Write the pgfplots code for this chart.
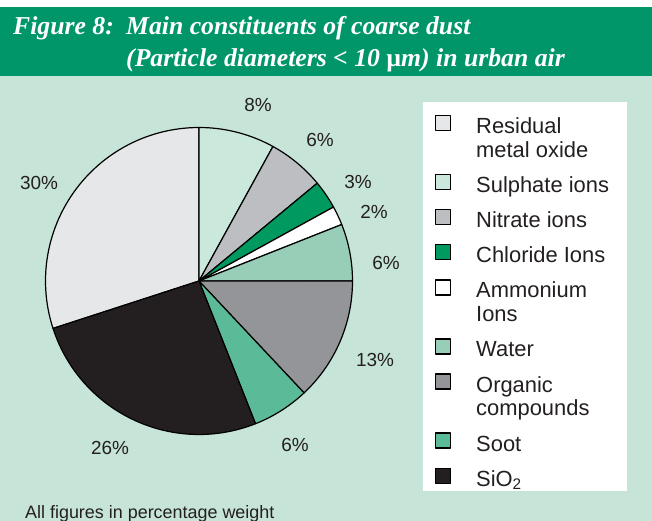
\documentclass[border=0pt]{standalone}
\usepackage{fontspec}
\setmainfont{Liberation Sans}
\newfontfamily\titlefont{Liberation Serif}
\usepackage{pgfplots}
\usepackage{pgfplotstable}
\pgfplotsset{compat=1.18}

\definecolor{bg}{HTML}{C7E4D8}
\definecolor{titlegreen}{HTML}{00966A}
\definecolor{ink}{HTML}{231F20}
\definecolor{cResidual}{HTML}{E6E7E9}
\definecolor{cSulphate}{HTML}{CBE8DC}
\definecolor{cNitrate}{HTML}{BDBEC1}
\definecolor{cChloride}{HTML}{00995F}
\definecolor{cAmmonium}{HTML}{FFFFFF}
\definecolor{cWater}{HTML}{98CDB8}
\definecolor{cOrganic}{HTML}{939598}
\definecolor{cSoot}{HTML}{5BBA98}
\definecolor{cSiO}{HTML}{231F20}

% share of each constituent, clockwise starting with residual metal oxide
\pgfplotstableread{
value colour
30 cResidual
8  cSulphate
6  cNitrate
3  cChloride
2  cAmmonium
6  cWater
13 cOrganic
6  cSoot
26 cSiO
}\piedata

\newcommand\lst{\rule[-6bp]{0pt}{22bp}}
\newcommand\two[2]{\parbox[t]{150bp}{\lst #1\\#2\lst}}

\begin{document}
\begin{tikzpicture}
\useasboundingbox (0,0) rectangle (652bp,521bp);
\fill[bg] (0,0) rectangle (652bp,445bp);
\fill[titlegreen] (0,445bp) rectangle (652bp,514bp);
\fill[white] (423bp,30bp) rectangle (627bp,419bp);

\begin{scope}[text=white, font=\titlefont\itshape\bfseries\fontsize{25.8}{30}\selectfont]
\node[anchor=base west, inner sep=0] at (13bp,486bp) {Figure 8:};
\node[anchor=base west, inner sep=0] at (126bp,486bp) {Main constituents of coarse dust};
\node[anchor=base west, inner sep=0] at (126bp,454bp) {(Particle diameters < 10 {\upshape µ}m) in urban air};
\end{scope}

\node[anchor=base west, inner sep=0, text=ink, font=\fontsize{18}{21}\selectfont] at (25bp,3bp) {All figures in percentage weight};

\begin{axis}[
    at={(199bp,240bp)}, anchor=center,
    width=307bp, height=307bp, scale only axis,
    xmin=-1, xmax=1, ymin=-1, ymax=1,
    hide axis, clip=false,
    legend image code/.code={
        \draw[#1, line width=1.2bp] (0bp,3bp) rectangle (15bp,18bp);
        \path (40bp,0bp);
    },
    legend cell align=left,
    legend style={at={(axis description cs:1.2687,1.0407)}, anchor=north west,
        draw=none, fill=none, inner sep=0pt, outer sep=0pt,
        row sep=10.5bp, column sep=0pt,
        font=\fontsize{22}{24}\selectfont, text=ink,
        cells={anchor=base west}, nodes={inner sep=0pt, text depth=}},
    legend entries={
        {\two{Residual}{metal oxide}},
        {\lst Sulphate ions},
        {\lst Nitrate ions},
        {\lst Chloride Ions},
        {\two{Ammonium}{Ions}},
        {\lst Water},
        {\two{Organic}{compounds}},
        {\lst Soot},
        {\lst SiO\textsubscript{2}}},
]
\def\angstart{198}
\pgfplotsforeachungrouped \i in {0,...,8}{%
    \pgfplotstablegetelem{\i}{value}\of\piedata
    \let\val\pgfplotsretval
    \pgfplotstablegetelem{\i}{colour}\of\piedata
    \let\col\pgfplotsretval
    \pgfmathsetmacro\angend{\angstart-3.6*\val}
    \edef\doslice{\noexpand\addplot[draw=black, line width=1.2bp, line join=round,
        fill=\col, domain=\angend:\angstart, samples=60]
        ({cos(x)},{sin(x)}) -- (axis cs:0,0) -- cycle;}
    \doslice
    \global\let\angstart\angend
}

\begin{scope}[font=\fontsize{19}{22}\selectfont, text=ink]
\node at (axis cs:0.384,1.147) {8\%};
\node at (axis cs:0.788,0.919) {6\%};
\node at (axis cs:1.036,0.645) {3\%};
\node at (axis cs:1.140,0.450) {2\%};
\node at (axis cs:1.218,0.117) {6\%};
\node at (axis cs:1.147,-0.515) {13\%};
\node at (axis cs:0.625,-1.068) {6\%};
\node at (axis cs:-0.580,-1.088) {26\%};
\node at (axis cs:-1.042,0.638) {30\%};
\end{scope}
\end{axis}
\end{tikzpicture}
\end{document}
